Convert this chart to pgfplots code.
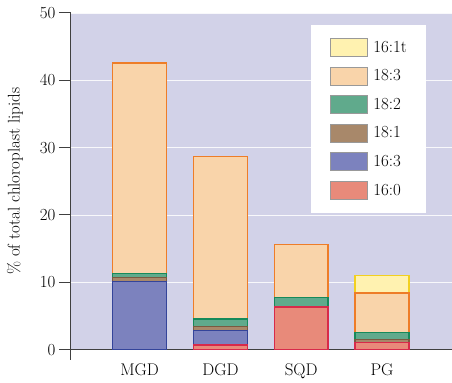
\documentclass[border=0pt]{standalone}
\usepackage{fontspec}
\usepackage{pgfplots}
\pgfplotsset{compat=1.18}
\definecolor{bgc}{HTML}{D2D2E8}
\definecolor{fA}{HTML}{E88A7A}\definecolor{eA}{HTML}{D82A4A}
\definecolor{fB}{HTML}{7C82BE}\definecolor{eB}{HTML}{34449A}
\definecolor{fC}{HTML}{A8886A}\definecolor{eC}{HTML}{7A5A40}
\definecolor{fD}{HTML}{60AA8C}\definecolor{eD}{HTML}{168A5A}
\definecolor{fE}{HTML}{F9D4AA}\definecolor{eE}{HTML}{EE7D28}
\definecolor{fF}{HTML}{FFF2B0}\definecolor{eF}{HTML}{F2D020}
\begin{document}
\begin{tikzpicture}
\begin{axis}[
  scale only axis, width=381bp, height=337bp,
  ybar stacked, bar width=0.667,
  xmin=-0.85, xmax=3.86, ymin=0, ymax=50,
  xtick={0,1,2,3}, xticklabels={MGD,DGD,SQD,PG},
  ytick={0,10,20,30,40,50},
  axis x line=bottom, axis y line=left,
  axis line style={-, draw=black!75, line width=1pt},
  y axis line style={shorten <=-10bp},
  x tick style={draw=none},
  y tick style={draw=black!75, line width=1pt},
  tick align=outside, major tick length=12bp,
  ymajorgrids, grid style={white!85!bgc, line width=0.7pt},
  axis background/.style={fill=bgc},
  ylabel={\% of total chloroplast lipids},
  ylabel style={font=\fontsize{17}{19}\selectfont, at={(axis description cs:-0.147,0.5)}, anchor=center},
  tick label style={font=\fontsize{17}{19}\selectfont},
  yticklabel style={xshift=0bp},
  xticklabel style={yshift=1bp},
  /pgf/number format/assume math mode=true,
  reverse legend,
  legend style={at={(0.63,0.9644)}, anchor=north west, draw=none, fill=white,
    font=\fontsize{17}{19}\selectfont, inner xsep=19bp, inner ysep=13bp,
    row sep=10bp, column sep=6bp, nodes={inner sep=0pt},
    cells={anchor=west}},
  legend image code/.code={\draw[#1, draw=black!40, line width=0.6pt] (0bp,-9bp) rectangle (37bp,9bp);},
  bs/.style={line width=1.4pt},
  after end axis/.code={\path (rel axis cs:0,0) ++(-71bp,-28bp) rectangle ++(452bp,378bp);},
]
\addplot[bs, fill=fA, draw=eA] coordinates {(0,0) (1,0.7) (2,6.3) (3,1.1)};
\addplot[bs, fill=fB, draw=eB] coordinates {(0,10.1) (1,2.1) (2,0) (3,0)};
\addplot[bs, fill=fC, draw=eC] coordinates {(0,0.6) (1,0.6) (2,0) (3,0.4)};
\addplot[bs, fill=fD, draw=eD] coordinates {(0,0.6) (1,1.15) (2,1.4) (3,1.0)};
\addplot[bs, fill=fE, draw=eE] coordinates {(0,31.3) (1,24.15) (2,7.9) (3,5.9)};
\addplot[bs, fill=fF, draw=eF] coordinates {(0,0) (1,0) (2,0) (3,2.6)};
\legend{16:0,16:3,18:1,18:2,18:3,16:1t}
\end{axis}
\end{tikzpicture}
\end{document}
